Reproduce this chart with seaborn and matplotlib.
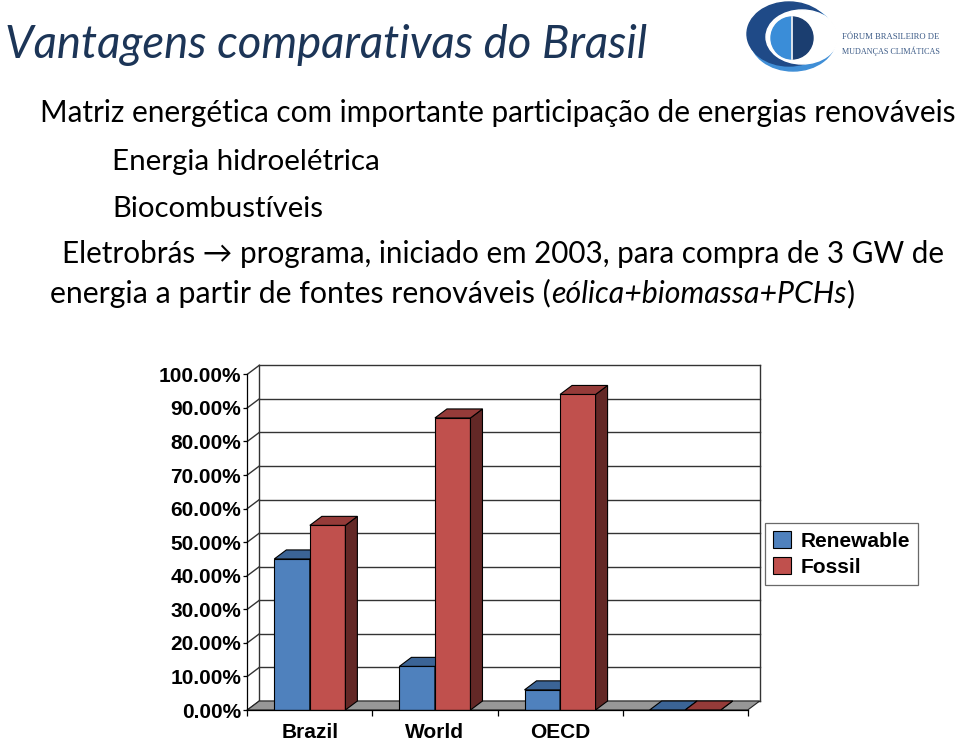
import numpy as np
import pandas as pd
import matplotlib
matplotlib.use("Agg")
import matplotlib.pyplot as plt
import seaborn as sns
from matplotlib.patches import Polygon, Patch, Ellipse, Wedge
from matplotlib.ticker import FuncFormatter, FixedLocator

# ---------------- data ----------------
regions = ["Brazil", "World", "OECD", " "]
renewable = [45, 13, 6, 0]
fossil = [55, 87, 94, 0]
series = ["Renewable", "Fossil"]
y_ticks = [0, 10, 20, 30, 40, 50, 60, 70, 80, 90, 100]

title = "Vantagens comparativas do Brasil"
line1 = "Matriz energética com importante participação de energias renováveis"
line2 = "Energia hidroelétrica"
line3 = "Biocombustíveis"
line4 = "Eletrobrás \u2192 programa, iniciado em 2003, para compra de 3 GW de"
line5a = "energia a partir de fontes renováveis ("
line5b = "eólica+biomassa+PCHs"
line5c = ")"
logo1 = "FÓRUM BRASILEIRO DE"
logo2 = "MUDANÇAS CLIMÁTICAS"

# ---------------- style ----------------
BLUE, RED = "#4F81BD", "#C0504D"
BLUE_TOP, BLUE_SIDE = "#3B6496", "#2C4B72"
RED_TOP, RED_SIDE = "#953B39", "#632826"
W, H = 960, 745
DX, DY = 12, 9
CH_FONT = "Liberation Sans"
TXT_FONT = ["Lato", "DejaVu Sans"]

fig = plt.figure(figsize=(W / 100, H / 100), dpi=100)
fig.patch.set_facecolor("white")
bg = fig.add_axes([0, 0, 1, 1], zorder=0)
bg.set_xlim(0, W)
bg.set_ylim(H, 0)
bg.axis("off")

# ---------------- chart ----------------
L, R, B, T = 247.3, 747.7, 710.0, 374.3
ax = fig.add_axes([L / W, (H - B) / H, (R - L) / W, (B - T) / H], zorder=2)
ax.patch.set_visible(False)

df = pd.DataFrame({
    "Region": regions * 2,
    "Source": [series[0]] * len(regions) + [series[1]] * len(regions),
    "Share": renewable + fossil,
})
sns.barplot(data=df, x="Region", y="Share", hue="Source", order=regions,
            hue_order=series, palette=[BLUE, RED], width=0.568, saturation=1,
            edgecolor="black", linewidth=0.8, errorbar=None, legend=False, ax=ax)
ax.set_xlim(-0.5, len(regions) - 0.5)
ax.set_ylim(0, 100)
ax.set_xlabel("")
ax.set_ylabel("")


def back(xs, ys):
    pts = ax.transData.transform(np.column_stack([xs, ys]))
    pts = pts + np.array([DX, DY])
    return ax.transData.inverted().transform(pts)


xl, xr = -0.5, len(regions) - 0.5
GRID = "#333333"
# back wall + left wall grid
for v in y_ticks:
    b = back([xl, xr], [v, v])
    ax.plot(b[:, 0], b[:, 1], color=GRID, lw=1.0, zorder=0.5, clip_on=False)
    ax.plot([xl, b[0, 0]], [v, b[0, 1]], color=GRID, lw=1.0, zorder=0.5, clip_on=False)
bl = back([xl, xl], [0, 100])
ax.plot(bl[:, 0], bl[:, 1], color=GRID, lw=1.0, zorder=0.5, clip_on=False)
br = back([xr, xr], [0, 100])
ax.plot(br[:, 0], br[:, 1], color=GRID, lw=1.0, zorder=0.5, clip_on=False)

# floor
fb = back([xr, xl], [0, 0])
floor = Polygon([(xl, 0), (xr, 0), tuple(fb[0]), tuple(fb[1])], closed=True,
                facecolor="#979797", edgecolor="#222222", lw=0.8, zorder=1,
                clip_on=False)
ax.add_patch(floor)

# 3D faces for bars
bars = sorted([p for p in ax.patches if p is not floor], key=lambda p: p.get_x())
for i, p in enumerate(bars):
    x0, w, h = p.get_x(), p.get_width(), p.get_height()
    fc = matplotlib.colors.to_hex(p.get_facecolor())
    is_blue = fc.lower() == BLUE.lower()
    top_c = BLUE_TOP if is_blue else RED_TOP
    side_c = BLUE_SIDE if is_blue else RED_SIDE
    z = 2 + i * 0.01
    p.set_zorder(z)
    tb = back([x0 + w, x0], [h, h])
    top = Polygon([(x0, h), (x0 + w, h), tuple(tb[0]), tuple(tb[1])],
                  facecolor=top_c, edgecolor="black", lw=0.8, zorder=z,
                  clip_on=False)
    sb = back([x0 + w, x0 + w], [h, 0])
    side = Polygon([(x0 + w, 0), (x0 + w, h), tuple(sb[0]), tuple(sb[1])],
                   facecolor=side_c, edgecolor="black", lw=0.8, zorder=z,
                   clip_on=False)
    ax.add_patch(side)
    ax.add_patch(top)

# axes / ticks
for s in ["top", "right"]:
    ax.spines[s].set_visible(False)
for s in ["left", "bottom"]:
    ax.spines[s].set_color("black")
    ax.spines[s].set_linewidth(0.9)
    ax.spines[s].set_zorder(3)

ax.set_yticks(y_ticks)
ax.yaxis.set_major_formatter(FuncFormatter(lambda v, _: f"{v:.2f}%"))
ax.tick_params(axis="y", length=3, width=0.9, pad=1.5, direction="out")
ax.set_xticks(range(len(regions)))
ax.set_xticklabels(regions)
ax.xaxis.set_minor_locator(FixedLocator(np.arange(-0.5, len(regions), 1.0)))
ax.tick_params(axis="x", which="major", length=0, pad=9)
ax.tick_params(axis="x", which="minor", length=4.3, width=0.9, direction="out")
for lab in ax.get_xticklabels() + ax.get_yticklabels():
    lab.set_fontfamily(CH_FONT)
    lab.set_fontweight("bold")
    lab.set_fontsize(15)
    lab.set_color("black")

handles = [Patch(facecolor=BLUE, edgecolor="black", lw=0.8),
           Patch(facecolor=RED, edgecolor="black", lw=0.8)]
leg = ax.legend(handles, series, loc="upper left",
                bbox_to_anchor=(765 / W, 1 - 523 / H), bbox_transform=fig.transFigure,
                borderaxespad=0, frameon=True, fancybox=False,
                handlelength=0.85, handleheight=0.85, handletextpad=0.45,
                borderpad=0.4, labelspacing=0.3,
                prop={"family": CH_FONT, "weight": "bold", "size": 15})
leg.get_frame().set_edgecolor("#444444")
leg.get_frame().set_linewidth(0.9)

# ---------------- slide text ----------------
fig.canvas.draw()
rend = fig.canvas.get_renderer()


def fit_line(x, y, parts, target_w, base=20, color="black", family=TXT_FONT):
    texts = []
    for s, st in parts:
        t = bg.text(x, y, s, fontsize=base, fontstyle=st, family=family,
                    color=color, va="baseline", ha="left")
        texts.append(t)
    tw = sum(t.get_window_extent(rend).width for t in texts)
    fs = base * target_w / tw
    cx = x
    for t in texts:
        t.set_fontsize(fs)
        t.set_x(cx)
        cx += t.get_window_extent(rend).width
    return texts


fit_line(5, 58, [(title, "italic")], 642, color="#1C3557")
fit_line(40, 122, [(line1, "normal")], 917)
fit_line(112, 170, [(line2, "normal")], 268)
fit_line(112, 217, [(line3, "normal")], 211)
fit_line(62, 263, [(line4, "normal")], 881)
fit_line(50, 303, [(line5a, "normal"), (line5b, "italic"), (line5c, "normal")], 805)

# ---------------- logo ----------------
bg.add_patch(Ellipse((793, 38), 86, 66, color="#3F8ED6", zorder=1))
bg.add_patch(Ellipse((789, 34), 84, 64, color="#1F4A87", zorder=1.1))
bg.add_patch(Ellipse((802, 37), 72, 54, color="white", zorder=1.2))
bg.add_patch(Wedge((792, 38), 21, 90, 270, color="#3A8DD8", zorder=1.3))
bg.add_patch(Wedge((792, 38), 21, -90, 90, color="#1B3E70", zorder=1.3))
bg.plot([792, 792], [17, 59], color="white", lw=1.2, zorder=1.4)
fit_line(842, 39, [(logo1, "normal")], 98, base=7, color="#3B5A86",
         family=["Liberation Serif"])
fit_line(842, 54, [(logo2, "normal")], 98, base=7, color="#3B5A86",
         family=["Liberation Serif"])

fig.savefig("out.png", dpi=100, facecolor="white")
